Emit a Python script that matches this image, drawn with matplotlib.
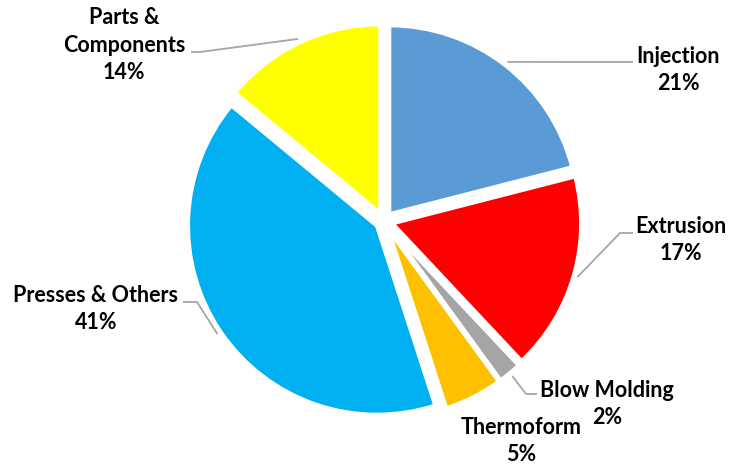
import matplotlib
matplotlib.use('Agg')
import matplotlib.pyplot as plt
import numpy as np

# data
categories = ['Injection', 'Extrusion', 'Blow Molding', 'Thermoform',
              'Presses & Others', 'Parts &\nComponents']
shares = [21, 17, 2, 5, 41, 14]
colors = ['#5B9BD5', '#FF0000', '#A5A5A5', '#FFC000', '#00B0F0', '#FFFF00']

# layout, in pixels of the 730x466 image
CX, CY, R = 384, 221, 189
label_px = [(678, 70), (681, 240), (607, 404), (521, 441), (96, 309), (124, 45)]
# leader line points after the wedge edge (None = no leader)
leader_px = [
    [(633, 62)],
    [(620, 233), (633, 233)],
    [(526, 394), (537, 394)],
    None,
    [(197, 302), (183, 302)],
    [(200, 52), (191, 52)],
]


def to_data(p):
    return ((p[0] - CX) / R, (CY - p[1]) / R)


fig = plt.figure(figsize=(7.3, 4.66), dpi=100)
ax = fig.add_axes([0, 0, 1, 1])

explode = [0.045] * len(shares)
wedges, _ = ax.pie(shares, colors=colors, startangle=90, counterclock=False,
                   explode=explode, radius=1,
                   wedgeprops=dict(edgecolor='white', linewidth=3))

for w, lab, share, pos, lead in zip(wedges, categories, shares, label_px, leader_px):
    mid = np.deg2rad((w.theta1 + w.theta2) / 2)
    cx, cy = w.center
    if lead is not None:
        start = (cx + 1.02 * np.cos(mid), cy + 1.02 * np.sin(mid))
        pts = [start] + [to_data(p) for p in lead]
        xs, ys = zip(*pts)
        ax.plot(xs, ys, color='#A6A6A6', lw=1.3, solid_capstyle='butt', zorder=1)
    tx, ty = to_data(pos)
    ax.text(tx, ty, f"{lab}\n{share}%", ha='center', va='center',
            fontsize=15.5, fontweight='bold', family='Lato',
            linespacing=1.38, color='black')

ax.set_xlim(-CX / R, (730 - CX) / R)
ax.set_ylim(-(466 - CY) / R, CY / R)
ax.set_aspect('auto')
ax.axis('off')

fig.savefig('out.png', dpi=100, facecolor='white')
